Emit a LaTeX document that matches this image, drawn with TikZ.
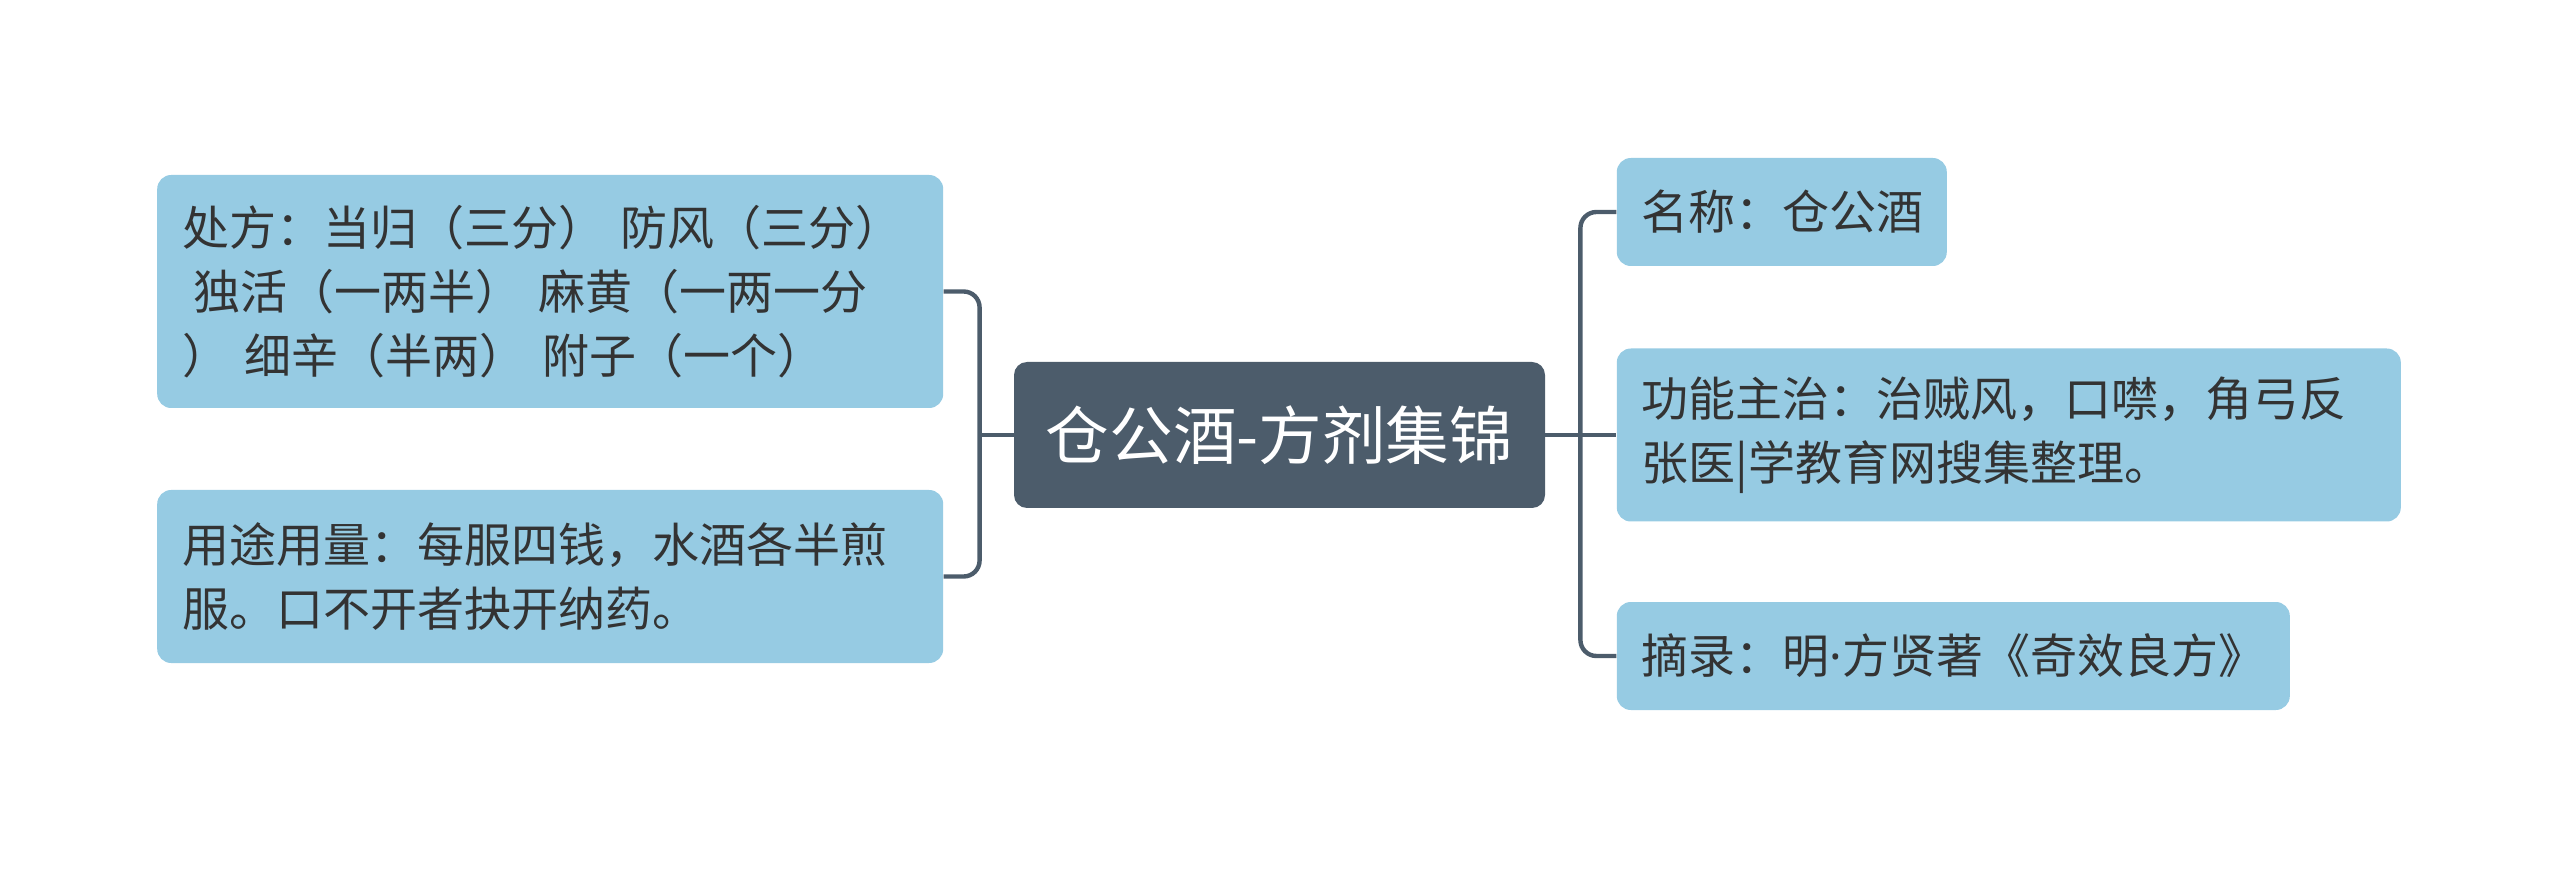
\documentclass[tikz,border=0pt]{standalone}
\usepackage{fontspec}
\setmainfont{Noto Sans CJK SC}
\newfontfamily\latinpart{Noto Sans}
\usepackage{tikz}
\usetikzlibrary{positioning}

\definecolor{leafblue}{HTML}{96CBE3}
\definecolor{hubslate}{HTML}{4C5C6B}
\definecolor{leaftext}{HTML}{333333}

\begin{document}
\begin{tikzpicture}[
  x=0.5pt, y=-0.5pt,
  every node/.style={font=\fontsize{23.5pt}{32pt}\selectfont},
  hub/.style={fill=hubslate, rounded corners=6.5pt, minimum width=265.5pt, minimum height=73pt, inner sep=0pt, text=white, font=\fontsize{31.8pt}{36pt}\selectfont},
  leaf/.style={fill=leafblue, rounded corners=7pt, inner xsep=12.5pt, inner ysep=0pt, align=left, text=leaftext},
  link/.style={draw=hubslate, line width=2.2pt, rounded corners=8pt}
]
\useasboundingbox (0,0) rectangle (2560,871);

\node[hub] (hub) at (1279.5,435) {仓公酒-方剂集锦};

% left side
\node[leaf, text width=368pt, minimum height=116.5pt, left=35pt of hub, yshift=71.75pt] (recipe) {处方：当归（三分） 防风（三分）\\\hspace*{0.25em}独活（一两半） 麻黄（一两一分\\） 细辛（半两） 附子（一个）};
\node[leaf, text width=368pt, minimum height=86.5pt, left=35pt of hub, yshift=-70.75pt] (usage) {用途用量：每服四钱，水酒各半煎\\服。口不开者抉开纳药。};

% right side
\node[leaf, text width=140pt, minimum height=54pt, right=35.5pt of hub, yshift=111.5pt] (name) {名称：仓公酒};
\node[leaf, text width=367pt, minimum height=86.5pt, right=35.5pt of hub] (effect) {功能主治：治贼风，口噤，角弓反\\张医|学教育网搜集整理。};
\node[leaf, text width=311.5pt, minimum height=54pt, right=35.5pt of hub, yshift=-110.5pt] (source) {摘录：明{\latinpart ·}方贤著《奇效良方》};

\draw[link] (hub.west) -- ++(-17pt,0) coordinate (ljoint);
\draw[link] (recipe.east) -| (ljoint) |- (usage.east);
\draw[link] (hub.east) -- (effect.west);
\draw[link] (hub.east) ++(17.5pt,0) coordinate (rjoint);
\draw[link] (name.west) -| (rjoint) |- (source.west);
\end{tikzpicture}
\end{document}
